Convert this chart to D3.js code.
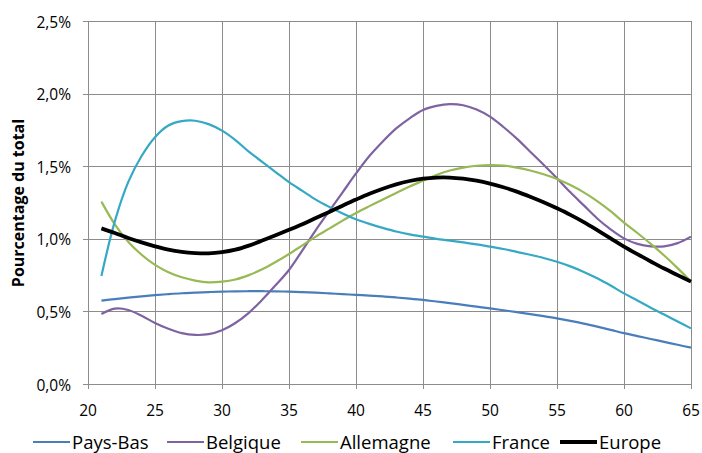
<!DOCTYPE html>
<html><head><meta charset="utf-8">
<script src="https://cdn.jsdelivr.net/npm/d3@7"></script>
<style>body{margin:0;background:#fff}svg{display:block}text{font-family:"Open Sans",Lato,sans-serif;fill:#000}</style>
</head><body><svg id="c" width="702" height="453"></svg>
<script>
const ages = d3.range(21, 66);
const paysBas = [.574,.585,.595,.604,.612,.619,.625,.629,.633,.636,.638,.639,.639,.638,.636,.633,.629,.624,.619,.614,.609,.603,.596,.588,.579,.568,.557,.545,.533,.521,.508,.495,.481,.467,.452,.435,.416,.395,.373,.350,.330,.310,.290,.270,.250];
const belgique = [.482,.519,.51,.47,.42,.38,.35,.338,.343,.37,.42,.49,.58,.68,.785,.92,1.06,1.19,1.32,1.45,1.57,1.67,1.76,1.83,1.887,1.915,1.928,1.92,1.89,1.841,1.77,1.69,1.60,1.51,1.417,1.32,1.23,1.14,1.065,1.003,.965,.948,.948,.97,1.015];
const allemagne = [1.256,1.10,.98,.89,.82,.77,.735,.712,.70,.705,.72,.75,.79,.84,.895,.955,1.015,1.07,1.125,1.178,1.225,1.27,1.315,1.36,1.40,1.44,1.47,1.49,1.503,1.508,1.505,1.49,1.47,1.445,1.412,1.37,1.32,1.26,1.19,1.112,1.04,.965,.885,.798,.705];
const france = [.744,1.12,1.39,1.57,1.70,1.78,1.81,1.813,1.79,1.745,1.68,1.60,1.53,1.46,1.39,1.33,1.27,1.22,1.175,1.135,1.103,1.075,1.05,1.03,1.015,1.00,.988,.975,.962,.946,.93,.91,.89,.868,.842,.81,.772,.728,.678,.624,.575,.525,.478,.43,.383];
const europe = [1.072,1.04,1.005,.975,.948,.925,.91,.902,.9,.908,.925,.953,.988,1.025,1.062,1.10,1.143,1.185,1.228,1.27,1.31,1.345,1.375,1.398,1.414,1.422,1.422,1.414,1.40,1.38,1.355,1.325,1.29,1.252,1.21,1.165,1.115,1.06,1.003,.946,.894,.844,.795,.75,.705];
const seriesNames = ["Pays-Bas","Belgique","Allemagne","France","Europe"];
const seriesValues = [paysBas, belgique, allemagne, france, europe];
const colors = ["#4a7ebb","#7f63a1","#98b954","#35a9c4","#000000"];
const widths = [2.2,2.2,2.2,2.2,3.8];
const xTicks = d3.range(20, 66, 5);
const yTicks = [0,0.5,1,1.5,2,2.5];
const yTitle = "Pourcentage du total";

const svg = d3.select("#c");
const x = d3.scaleLinear().domain([20,65]).range([88,691]);
const y = d3.scaleLinear().domain([0,2.5]).range([384,21]);
const loc = d3.formatLocale({decimal:",",thousands:" ",grouping:[3],currency:["","€"]});
const fmt = v => loc.format(".1f")(v) + "%";
const grid = "#8c8c8c";

svg.append("g").selectAll("line").data(yTicks).join("line")
  .attr("x1", 83).attr("x2", 691).attr("y1", d=>Math.round(y(d))+0.5).attr("y2", d=>Math.round(y(d))+0.5)
  .attr("stroke", grid).attr("stroke-width",1);
svg.append("g").selectAll("line").data(xTicks).join("line")
  .attr("x1", d=>Math.round(x(d))+0.5).attr("x2", d=>Math.round(x(d))+0.5).attr("y1", 21).attr("y2", 389)
  .attr("stroke", grid).attr("stroke-width",1);

svg.append("g").selectAll("text").data(yTicks).join("text")
  .attr("x", 71).attr("y", d=>y(d)+6.5).attr("text-anchor","end").attr("font-size",15.5).text(fmt);
svg.append("g").selectAll("text").data(xTicks).join("text")
  .attr("x", d=>x(d)).attr("y", 416).attr("text-anchor","middle").attr("font-size",15.5).text(d=>d);

svg.append("text").attr("transform","translate(24,203) rotate(-90)").attr("text-anchor","middle")
  .attr("font-size",16).attr("font-weight","bold").text(yTitle);

const line = d3.line().x((d,i)=>x(ages[i])).y(d=>y(d)).curve(d3.curveCatmullRom.alpha(0.5));
svg.append("g").selectAll("path").data(seriesValues).join("path")
  .attr("d", line).attr("fill","none").attr("stroke",(d,i)=>colors[i]).attr("stroke-width",(d,i)=>widths[i])
  .attr("stroke-linejoin","round");

const lx = [33,167,301,453,560];
const lg = svg.append("g").selectAll("g").data(seriesNames).join("g")
  .attr("transform",(d,i)=>`translate(${lx[i]},442)`);
lg.append("line").attr("x1",0).attr("x2",37).attr("stroke",(d,i)=>colors[i]).attr("stroke-width",(d,i)=>widths[i]);
lg.append("text").attr("x",39).attr("y",6.5).attr("font-size",18.5).text(d=>d);
</script></body></html>
